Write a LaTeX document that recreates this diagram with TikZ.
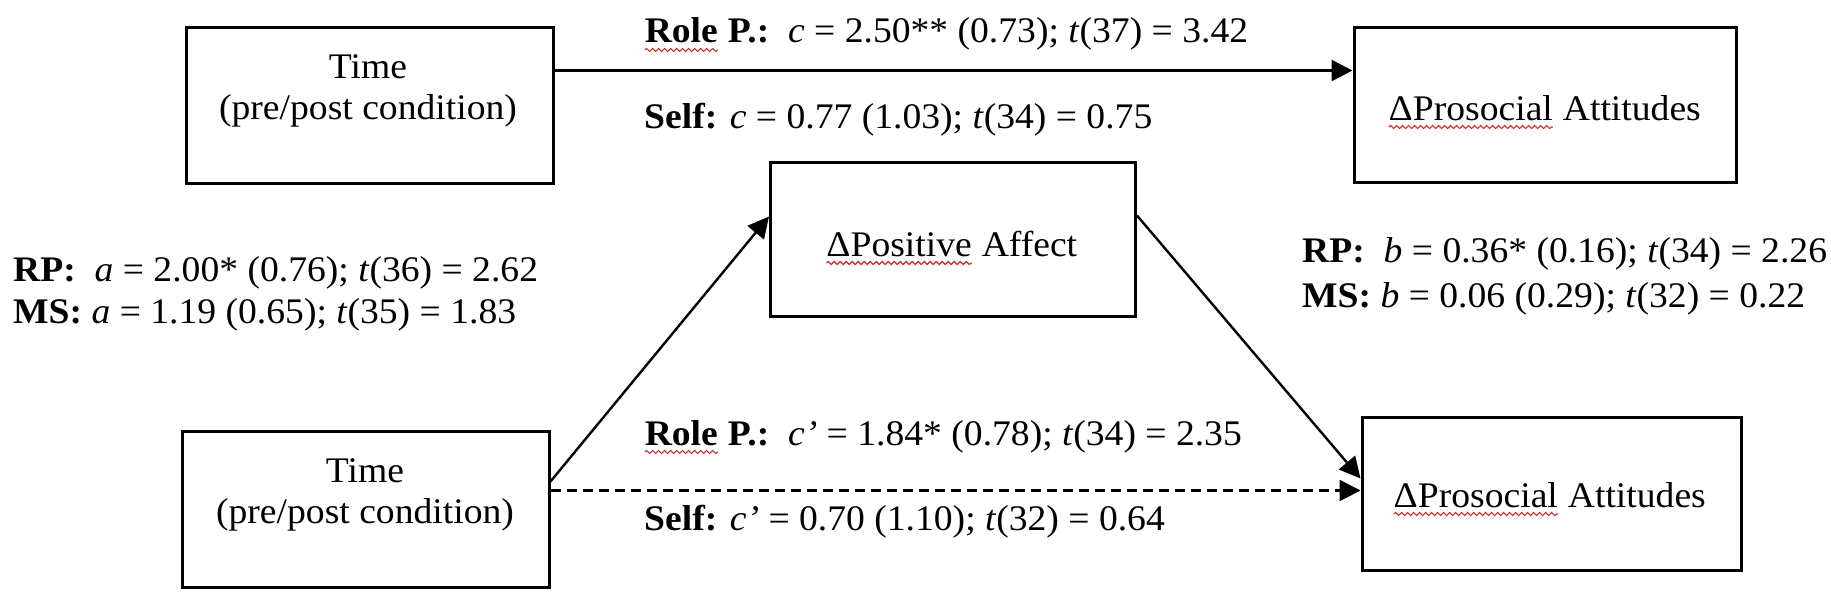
\documentclass[tikz,border=0pt]{standalone}
\usepackage{fontspec}
\setmainfont{Liberation Serif}
\newfontfamily\figfont[FakeStretch=1.045]{Liberation Serif}
\usetikzlibrary{arrows.meta,decorations.pathmorphing,calc}
\definecolor{spell}{RGB}{200,45,45}
\tikzset{
  varbox/.style={draw, line width=3pt, minimum width=#1, inner sep=0pt},
  link/.style={line width=2.4pt, -{Triangle[length=21pt,width=21pt]}},
  dlink/.style={link, dash pattern=on 10pt off 6pt},
  lab/.style={anchor=base west, inner sep=0pt, font=\figfont\fontsize{36}{42}\selectfont},
  btxt/.style={anchor=base, inner sep=0pt, font=\figfont\fontsize{36}{42}\selectfont},
}
\newcommand\sqw[1]{\tikz[baseline=(w.base)]{\node[inner sep=0pt,outer sep=0pt](w){#1};
  \draw[spell, line width=1.1pt, decorate, decoration={snake, amplitude=1.5pt, segment length=6pt}]
    ([yshift=-7pt]w.base west) -- ([yshift=-7pt]w.base east);}}
\begin{document}
\begin{tikzpicture}[x=1pt,y=-1pt]
\useasboundingbox (0,0) rectangle (1831,602);
% boxes
\node[varbox=367pt, minimum height=155pt] (t1) at (369.5,105.5) {};
\node[varbox=382pt, minimum height=154pt] (p1) at (1545,105) {};
\node[varbox=365pt, minimum height=154pt] (m) at (953,239) {};
\node[varbox=367pt, minimum height=156pt] (t2) at (365.5,509) {};
\node[varbox=379pt, minimum height=153pt] (p2) at (1551.5,493.5) {};
% box texts
\node[btxt] (t1a) at (368,78) {Time};
\node[btxt] (t1b) at (368,119) {(pre/post condition)};
\node[btxt] (t2a) at (365,482) {Time};
\node[btxt] (t2b) at (365,523) {(pre/post condition)};
\node[btxt] (p1t) at (1544.5,120) {\sqw{ΔProsocial} Attitudes};
\node[btxt] (mt) at (951.5,256) {\sqw{ΔPositive} Affect};
\node[btxt] (p2t) at (1549.5,507) {\sqw{ΔProsocial} Attitudes};
% connectors
\coordinate (c1s) at ([yshift=-44pt]t1.north east);
\draw[link] (c1s) -- (c1s -| p1.west);
\coordinate (as) at ([yshift=-52pt]t2.north east);
\coordinate (ae) at ([yshift=-56pt]m.north west);
\draw[link] (as) -- (ae);
\coordinate (bs) at ([yshift=-55pt]m.north east);
\coordinate (be) at ([yshift=-63pt]p2.north west);
\draw[link] (bs) -- (be);
\coordinate (ds) at ([yshift=-61pt]t2.north east);
\draw[dlink] (ds) -- (ds -| p2.west);
% labels
\node[lab] (l1) at (644,43) {\textbf{\sqw{Role} P.:}\ \ \textit{c} = 2.50** (0.73); \textit{t}(37) = 3.42};
\node[lab] (l2) at (644,128) {\textbf{Self:} \textit{c} = 0.77 (1.03); \textit{t}(34) = 0.75};
\node[lab] (l3) at (13,281) {\textbf{RP:}\ \ \textit{a} = 2.00* (0.76); \textit{t}(36) = 2.62};
\node[lab] (l4) at (13,323) {\textbf{MS:} \textit{a} = 1.19 (0.65); \textit{t}(35) = 1.83};
\node[lab] (l5) at (1302,262) {\textbf{RP:}\ \ \textit{b} = 0.36* (0.16); \textit{t}(34) = 2.26};
\node[lab] (l6) at (1302,307) {\textbf{MS:} \textit{b} = 0.06 (0.29); \textit{t}(32) = 0.22};
\node[lab] (l7) at (644,445) {\textbf{\sqw{Role} P.:}\ \ \textit{c’} = 1.84* (0.78); \textit{t}(34) = 2.35};
\node[lab] (l8) at (644,530) {\textbf{Self:} \textit{c’} = 0.70 (1.10); \textit{t}(32) = 0.64};
\end{tikzpicture}
\end{document}
